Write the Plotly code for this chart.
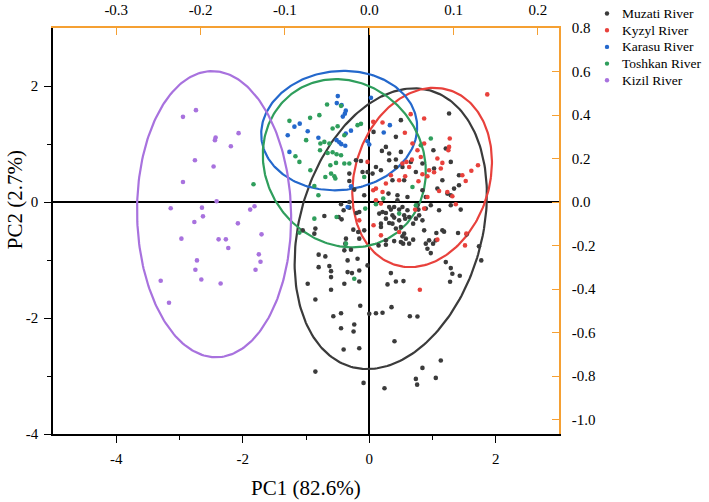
import numpy as np
import plotly.graph_objects as go

# ---------------- data ----------------
groups = ["Muzati River", "Kyzyl River", "Karasu River", "Toshkan River", "Kizil River"]
colors = ["#3b3b3b", "#e8413c", "#2468cc", "#2f9e5c", "#a872de"]

muz_x = [-0.446, -0.158, 0.158, 0.263, 0.342, 0.394, 0.473, 0.552, 0.568, 0.694, 0.894, 0.973, 1.104, 1.289, 1.446,
         -0.437, -0.710, -0.852, -0.252, -0.174, -0.379, -0.289, -0.394, -0.185, -0.342, -0.158, -0.273, -0.342, -0.394,
         -0.158, -0.631, -0.604, -0.604, -0.800, -0.694, -0.800, -0.973, -0.604, -0.852, -0.142, -0.027, 0.147, 0.263,
         0.394, 0.525, 0.536, 0.694, 0.315, 0.946, 1.009, 0.973, 1.061, 1.183, 1.404, 1.541, 1.210, 1.289, 1.314, 1.431,
         1.278, 1.735, 1.771, 0.342, 0.421, 0.541, 0.289, 0.352, 0.106, 0.000, 0.210, 0.642, 0.762, -0.568, -0.446,
         -0.237, -0.446, -0.248, 0.399, -0.405, -0.158, 0.841, 1.131, 0.737, 0.757, 1.052, -0.852, -0.090, 0.241,
         1.262, 0.500, 0.068, 0.421, 1.210, 1.014, 1.289, 1.419, 1.341, 1.289, 0.315, 0.500, 0.421, 0.185, 0.658,
         0.737, 0.552, 0.367, 0.304, 0.446, 0.604, 0.762, 0.210, 0.367, 0.473, 0.631, 0.789, 0.841, 0.263, 0.500,
         0.920, 0.315, 0.446, 0.525, 0.604, 0.394, 0.263, 0.185, -0.315, -0.200, -0.368, -0.158, -0.079, -0.868,
         -1.052, -0.106, -0.027, -0.131, 0.052, 0.106, 0.263, 0.525, 0.841, 1.025, 1.077, 1.156, 1.235, 1.419, 1.052,
         0.868, 0.737, 0.200, -0.315, -0.237, -0.079, -0.315, -0.405, -0.484, 0.421, 0.841, 0.894, 0.778, 0.500,
         0.552, 0.579, 0.631, 0.367, 0.421, 0.185, 0.894, 1.156, -0.315, -0.210, 0.315]
muz_y = [-0.040, -0.173, -0.200, -0.190, -0.131, -0.086, -0.131, -0.230, -0.287, -0.373, -0.114, -0.057, -0.143, -0.057,
         -0.131, -0.299, -0.242, -0.459, -0.477, -0.518, -0.718, -0.822, -0.834, -0.978, -1.007, -1.180, -1.226, -1.209,
         -1.409, -1.370, -1.105, -1.192, -1.295, -0.908, -0.938, -1.123, -1.409, -1.513, -1.680, -1.789, -1.093, -0.748,
         -0.736, -0.674, -0.592, -0.718, -0.649, -0.363, -0.661, -0.718, -0.881, -0.535, -0.511, -0.535, -0.558, -1.036,
         -1.140, -1.237, -1.271, -1.375, -0.765, -1.007, -1.226, -1.370, -1.364, -1.421, -1.813, -1.917, -1.927, -1.910,
         -1.969, -1.974, -1.969, -1.917, -2.112, -2.176, -2.233, -2.401, -2.544, -2.522, -2.860, -2.734, -3.050, -3.149,
         -3.033, -2.924, -3.119, -3.212,
         1.527, 1.411, 1.209, 1.123, 0.922, 0.893, 0.691, 0.461, 0.231, 0.116, 0.836, 0.864, 0.604, 0.548, 0.691,
         0.518, 0.375, 0.375, 0.145, 0.116, 0.086, -0.057, -0.173, -0.230, -0.316, -0.259, -0.230, -0.316, -0.661,
         -0.691, -0.805, -0.086, 0.029, -0.086, -0.143, -0.269, -0.287, -0.373, 0.000, -0.190, -0.632, -0.632, -0.489,
         -0.546, -0.489, 0.518, 0.518, 0.708, 0.490, 0.604, 0.950, 0.604, 0.663, 0.577, 0.231, 0.375, 0.145, 0.288,
         -0.661, -0.489, -0.287, 0.881, 0.363, 0.214, 0.116, -0.097, -0.143, -0.259, 0.732, 0.202, 0.086, -0.131,
         -0.432, -0.546, -0.632, -0.718, -0.373, -0.459, -0.432, -0.718, -0.489, 0.490, 0.720, 0.720]

kyz_x = [1.866, 0.655, 0.868, 0.210, 0.063, 0.563, 1.273, 0.868, 0.683, 1.251, 0.762, 0.815, 1.077, 1.719, 1.614,
         0.946, 1.025, 1.131, 1.156, 0.588, 0.631, 1.525, 0.841, 0.920, 0.778, 0.568, 0.473, 0.342, 0.263, 0.210,
         1.104, 1.235, 1.314, 1.368, 0.920, 0.868, 0.726, 1.535, 1.514, 1.077, 0.185, 0.473, 0.068, 0.800, 1.262,
         1.472, 0.106, 0.185, -0.158, 0.674, 0.525, 0.106, 0.063, -0.027]
kyz_y = [1.855, 1.515, 1.440, 1.371, 1.382, 1.195, 1.095, 1.009, 1.009, 0.893, 0.893, 0.777, 0.750, 0.634, 0.539,
         0.548, 0.513, 0.577, 0.674, 0.691, 0.604, 0.363, 0.478, 0.444, 0.358, 0.444, 0.375, 0.461, 0.318, 0.173,
         0.190, 0.173, 0.098, -0.040, 0.086, -0.114, -0.131, -0.546, -0.748, -0.649, -0.575, -0.518, -0.402, -1.513,
         0.950, 0.461, 0.029, -0.028, -0.316, 0.730, 0.663, 0.231, 0.202, 0.691]

kar_x = [-0.497, -0.513, -0.437, -0.371, -0.386, -0.418, -1.099, -1.183, -0.973, -1.289, -0.804, -1.262, -0.516,
         -0.473, -0.442, -0.371, -0.289, -0.027, 0.000, 0.027, 0.326, 0.229, -0.289, -0.342, -0.379]
kar_y = [1.826, 1.705, 1.670, 1.575, 1.523, 1.472, 1.351, 1.299, 1.221, 1.152, 1.109, 0.864, 1.066, 1.031, 0.997,
         1.181, 1.230, 1.048, 0.991, 1.796, 1.325, 1.199, 0.271, -0.086, 0.971]

tos_x = [-0.667, -0.446, -0.789, -0.935, -1.262, -0.500, -0.579, -0.394, -0.710, -0.773, -0.631, -0.778, -0.658,
         -0.579, -0.516, -0.446, -0.615, -0.525, -0.394, -0.315, -0.931, -0.694, -0.552, -0.536, -0.804, -1.830,
         -1.104, -1.167, 0.973, 0.815, 0.683, 0.106, -0.868, -0.516, -0.368, -0.185, -0.131, -0.079, 0.221, -0.063,
         0.473, -0.998, -0.868, -1.104, -0.237, 0.737, -0.604]
tos_y = [1.682, 1.658, 1.497, 1.451, 1.399, 1.307, 1.268, 1.152, 1.036, 1.009, 1.009, 0.893, 0.846, 0.858, 0.824,
         0.807, 0.634, 0.674, 0.663, 0.663, 0.548, 0.432, 0.444, 0.404, 0.116, 0.306, 0.691, 0.789, 1.095, 0.979,
         0.259, -0.040, -0.287, -0.259, -0.718, 1.325, 1.347, 0.432, 0.059, -0.114, -0.200, 1.066, 0.276, -0.528,
         -1.323, -0.057, 0.490]

kiz_x = [-2.945, -2.740, -2.066, -2.429, -2.440, -2.188, -2.756, -2.461, -2.945, -2.413, -3.139, -2.645, -2.629,
         -2.765, -1.882, -1.814, -2.077, -2.970, -2.382, -2.267, -2.229, -1.703, -2.724, -1.746, -1.719, -2.749,
         -1.798, -2.655, -2.350, -3.297, -3.166]
kiz_y = [1.468, 1.584, 1.187, 1.112, 1.066, 0.962, 0.720, 0.611, 0.345, 0.012, -0.109, -0.097, -0.247, -0.345,
         -0.131, -0.074, -0.368, -0.632, -0.644, -0.644, -0.794, -0.558, -1.007, -0.903, -1.029, -1.168, -1.168,
         -1.335, -1.404, -1.358, -1.737]

# confidence ellipses: centre, half x-extent, half y-extent, x-offset of top point
ell_cx = [0.34, 0.836, -0.475, -0.394, -2.453]
ell_cy = [-0.46, 0.423, 1.232, 0.668, -0.21]
ell_w = [1.52, 1.104, 1.233, 1.289, 1.218]
ell_h = [2.42, 1.546, 1.03, 1.45, 2.467]
ell_b = [0.37, 0.19, 0.07, -0.13, -0.03]

xs = [muz_x, kyz_x, kar_x, tos_x, kiz_x]
ys = [muz_y, kyz_y, kar_y, tos_y, kiz_y]

x_ticks = [-4, -2, 0, 2]
x_minor = [-3, -1, 1]
y_ticks = [-4, -2, 0, 2]
y_minor = [-3, -1, 1]
top_ticks = [-0.3, -0.2, -0.1, 0.0, 0.1, 0.2]
top_labels = ["-0.3", "-0.2", "-0.1", "0.0", "0.1", "0.2"]
right_ticks = [0.8, 0.6, 0.4, 0.2, 0.0, -0.2, -0.4, -0.6, -0.8, -1.0]
right_labels = ["0.8", "0.6", "0.4", "0.2", "0.0", "-0.2", "-0.4", "-0.6", "-0.8", "-1.0"]
load_scale_x = 0.075
load_scale_y = 0.8 / 3.0

# ---------------- figure ----------------
FONT = "Liberation Serif, Times New Roman, serif"
ORANGE = "#f5a033"
W, H = 709, 502
ML, MR, MT, MB = 53, 150, 28, 68
PW, PH = W - ML - MR, H - MT - MB

fig = go.Figure()

t = np.linspace(0, 2 * np.pi, 241)
for i, g in enumerate(groups):
    a = np.sqrt(ell_w[i] ** 2 - ell_b[i] ** 2)
    ex = ell_cx[i] + a * np.cos(t) + ell_b[i] * np.sin(t)
    ey = ell_cy[i] + ell_h[i] * np.sin(t)
    fig.add_trace(go.Scatter(x=ex, y=ey, mode="lines", line=dict(color=colors[i], width=2.2),
                             showlegend=False, hoverinfo="skip"))

for i, g in enumerate(groups):
    fig.add_trace(go.Scatter(x=xs[i], y=ys[i], mode="markers", name=g, showlegend=False,
                             marker=dict(color=colors[i], size=4.6, line=dict(width=0))))

# invisible trace to activate secondary axes
fig.add_trace(go.Scatter(x=[0], y=[0], xaxis="x2", yaxis="y2", mode="markers",
                         marker=dict(opacity=0), showlegend=False, hoverinfo="skip"))


def tickfont():
    return dict(family=FONT, size=15, color="black")


# custom legend (dot + label per group)
shapes = []
annotations = []
leg_dot_px, leg_txt_px, leg_top_px, leg_step = 607, 620, 13.5, 16.7
for i, g in enumerate(groups):
    py = leg_top_px + i * leg_step
    yp = (H - MB - py) / PH
    xd = (leg_dot_px - ML) / PW
    shapes.append(dict(type="circle", xref="paper", yref="paper", xsizemode="pixel", ysizemode="pixel",
                       xanchor=xd, yanchor=yp, x0=-2.2, x1=2.2, y0=-2.2, y1=2.2,
                       fillcolor=colors[i], line=dict(width=0), layer="above"))
    annotations.append(dict(text=g, x=(leg_txt_px - ML) / PW, y=yp, xref="paper", yref="paper",
                            showarrow=False, xanchor="left", yanchor="middle",
                            font=dict(family=FONT, size=13.5, color="black")))

annotations += [
    dict(text="PC1 (82.6%)", x=0.5, y=-0.133, xref="paper", yref="paper", showarrow=False,
         xanchor="center", yanchor="middle", font=dict(family=FONT, size=21, color="black")),
    dict(text="PC2 (2.7%)", x=-0.075, y=0.576, xref="paper", yref="paper", showarrow=False,
         textangle=-90, xanchor="center", yanchor="middle", font=dict(family=FONT, size=21, color="black")),
]

fig.update_layout(
    template="none",
    font=dict(family=FONT, size=15, color="black"),
    width=W, height=H,
    margin=dict(l=ML, r=MR, t=MT, b=MB, autoexpand=False),
    paper_bgcolor="white", plot_bgcolor="white",
    showlegend=False,
    xaxis=dict(range=[-5, 3], tickvals=x_ticks, ticktext=[str(v) for v in x_ticks], ticks="outside",
               ticklen=7, tickwidth=1.3, tickcolor="black", showline=True, linecolor="black", linewidth=1.5,
               showgrid=False, zeroline=True, zerolinecolor="black", zerolinewidth=1.6, mirror=False,
               tickfont=tickfont(), ticklabelstandoff=3, automargin=False,
               minor=dict(tickvals=x_minor, ticks="outside", ticklen=4, tickcolor="black", tickwidth=1.3)),
    yaxis=dict(range=[-4, 3], tickvals=y_ticks, ticktext=[str(v) for v in y_ticks], ticks="outside",
               ticklen=7, tickwidth=1.3, tickcolor="black", showline=True, linecolor="black", linewidth=1.5,
               showgrid=False, zeroline=True, zerolinecolor="black", zerolinewidth=1.6, mirror=False,
               tickfont=tickfont(), ticklabelstandoff=3, automargin=False,
               minor=dict(tickvals=y_minor, ticks="outside", ticklen=4, tickcolor="black", tickwidth=1.3)),
    xaxis2=dict(overlaying="x", side="top", anchor="y", range=[-5 * load_scale_x, 3 * load_scale_x],
                tickvals=top_ticks, ticktext=top_labels, ticks="inside", ticklen=7, tickwidth=1.3,
                tickcolor=ORANGE, showline=True, linecolor=ORANGE, linewidth=1.6, showgrid=False,
                zeroline=False, tickfont=tickfont(), ticklabelstandoff=5, automargin=False),
    yaxis2=dict(overlaying="y", side="right", anchor="x", range=[-4 * load_scale_y, 3 * load_scale_y],
                tickvals=right_ticks, ticktext=right_labels, ticks="inside", ticklen=7, tickwidth=1.3,
                tickcolor=ORANGE, showline=True, linecolor=ORANGE, linewidth=1.6, showgrid=False,
                zeroline=False, tickfont=tickfont(), ticklabelstandoff=8, automargin=False),
    shapes=shapes,
    annotations=annotations,
)

fig.write_html("out.html")
